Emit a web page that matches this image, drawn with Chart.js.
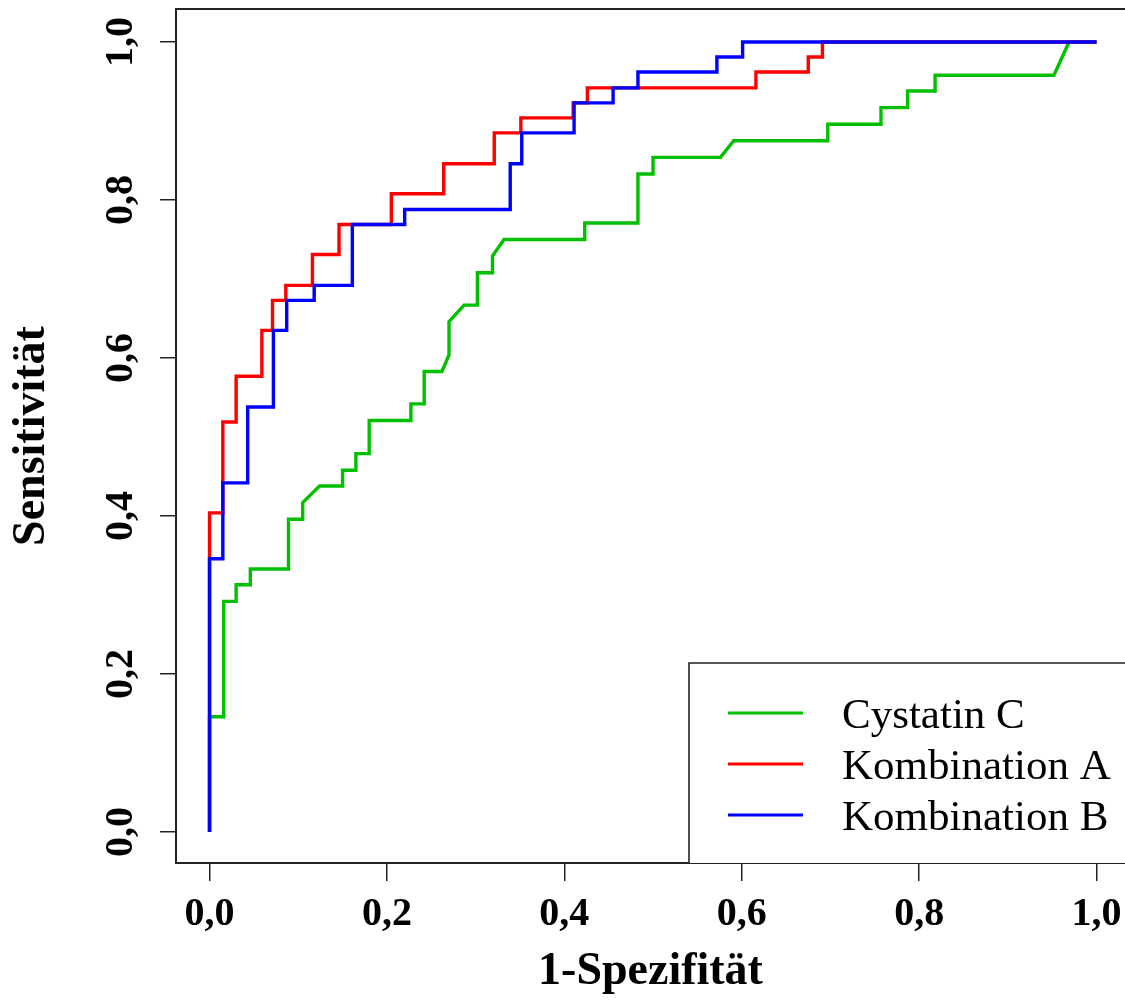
<!DOCTYPE html>
<html><head><meta charset="utf-8">
<script src="https://cdn.jsdelivr.net/npm/chart.js@4.4.1/dist/chart.umd.min.js"></script>
<style>html,body{margin:0;padding:0;background:#fff;overflow:hidden}canvas{display:block}</style>
</head><body>
<canvas id="c" width="1125" height="1000"></canvas>
<script>
// ---- data ----
const seriesNames = ['Cystatin C', 'Kombination A', 'Kombination B'];
const seriesColors = ['#00c000', '#ff0000', '#0000ff'];

const cystatinFpr = [0, 0, 0.016, 0.016, 0.030, 0.030, 0.046, 0.046, 0.089, 0.089, 0.105, 0.105, 0.124, 0.150, 0.150, 0.165, 0.165, 0.180, 0.180, 0.227, 0.227, 0.242, 0.242, 0.262, 0.270, 0.270, 0.287, 0.302, 0.302, 0.319, 0.319, 0.332, 0.423, 0.423, 0.483, 0.483, 0.500, 0.500, 0.576, 0.591, 0.697, 0.697, 0.757, 0.757, 0.787, 0.787, 0.818, 0.818, 0.952, 0.969, 1];
const cystatinTpr = [0, 0.146, 0.146, 0.292, 0.292, 0.313, 0.313, 0.333, 0.333, 0.396, 0.396, 0.417, 0.438, 0.438, 0.458, 0.458, 0.479, 0.479, 0.521, 0.521, 0.542, 0.542, 0.583, 0.583, 0.604, 0.646, 0.667, 0.667, 0.708, 0.708, 0.729, 0.750, 0.750, 0.771, 0.771, 0.833, 0.833, 0.854, 0.854, 0.875, 0.875, 0.896, 0.896, 0.917, 0.917, 0.938, 0.938, 0.958, 0.958, 1, 1];

const kombAFpr = [0, 0, 0.015, 0.015, 0.030, 0.030, 0.059, 0.059, 0.071, 0.071, 0.086, 0.086, 0.116, 0.116, 0.146, 0.146, 0.205, 0.205, 0.264, 0.264, 0.321, 0.321, 0.351, 0.351, 0.410, 0.410, 0.426, 0.426, 0.616, 0.616, 0.675, 0.675, 0.691, 0.691, 1];
const kombATpr = [0, 0.404, 0.404, 0.519, 0.519, 0.577, 0.577, 0.635, 0.635, 0.673, 0.673, 0.692, 0.692, 0.731, 0.731, 0.769, 0.769, 0.808, 0.808, 0.846, 0.846, 0.885, 0.885, 0.904, 0.904, 0.923, 0.923, 0.942, 0.942, 0.962, 0.962, 0.981, 0.981, 1, 1];

const kombBFpr = [0, 0, 0.015, 0.015, 0.043, 0.043, 0.072, 0.072, 0.087, 0.087, 0.118, 0.118, 0.161, 0.161, 0.220, 0.220, 0.339, 0.339, 0.352, 0.352, 0.411, 0.411, 0.455, 0.455, 0.483, 0.483, 0.572, 0.572, 0.601, 0.601, 1];
const kombBTpr = [0, 0.346, 0.346, 0.442, 0.442, 0.538, 0.538, 0.635, 0.635, 0.673, 0.673, 0.692, 0.692, 0.769, 0.769, 0.788, 0.788, 0.846, 0.846, 0.885, 0.885, 0.923, 0.923, 0.942, 0.942, 0.962, 0.962, 0.981, 0.981, 1, 1];

const tickValues = [0, 0.2, 0.4, 0.6, 0.8, 1.0];
const tickLabels = ['0,0', '0,2', '0,4', '0,6', '0,8', '1,0'];
const xTitle = '1-Spezifität';
const yTitle = 'Sensitivität';

// ---- build chart ----
const toPts = (xs, ys) => xs.map((x, i) => ({x: x, y: ys[i]}));
const allFpr = [cystatinFpr, kombAFpr, kombBFpr];
const allTpr = [cystatinTpr, kombATpr, kombBTpr];
const drawOrder = [3, 2, 1];

const datasets = seriesNames.map((name, i) => ({
  label: name,
  data: toPts(allFpr[i], allTpr[i]),
  borderColor: seriesColors[i],
  backgroundColor: seriesColors[i],
  borderWidth: 3.4,
  pointRadius: 0,
  tension: 0,
  fill: false,
  order: drawOrder[i],
  borderJoinStyle: 'miter',
  borderCapStyle: 'butt'
}));

const SERIF = '"Liberation Serif", "Times New Roman", serif';
const AXIS_COLOR = '#222';

const noPad = s => { s.paddingTop = 0; s.paddingBottom = 0; s.paddingLeft = 0; s.paddingRight = 0; };

const boxAndLegend = {
  id: 'boxAndLegend',
  afterDatasetsDraw(chart) {
    const {ctx, chartArea: a} = chart;
    ctx.save();
    // top border of plot box
    ctx.strokeStyle = AXIS_COLOR;
    ctx.lineWidth = 2;
    ctx.beginPath();
    ctx.moveTo(a.left - 1, a.top);
    ctx.lineTo(a.right + 2, a.top);
    ctx.stroke();
    // legend box
    const lx = 689, ly = 663;
    ctx.fillStyle = '#fff';
    ctx.fillRect(lx, ly, a.right + 10 - lx, a.bottom - ly);
    ctx.lineWidth = 1.6;
    ctx.beginPath();
    ctx.moveTo(lx, a.bottom);
    ctx.lineTo(lx, ly);
    ctx.lineTo(a.right + 10, ly);
    ctx.stroke();
    const rows = [713, 764, 815];
    chart.data.datasets.forEach((ds, i) => {
      ctx.strokeStyle = ds.borderColor;
      ctx.lineWidth = 3;
      ctx.beginPath();
      ctx.moveTo(728, rows[i]);
      ctx.lineTo(803, rows[i]);
      ctx.stroke();
      ctx.fillStyle = '#000';
      ctx.font = '43px ' + SERIF;
      ctx.textBaseline = 'alphabetic';
      ctx.textAlign = 'left';
      ctx.fillText(ds.label, 842, rows[i] + 15);
    });
    ctx.restore();
  }
};

new Chart(document.getElementById('c'), {
  type: 'line',
  data: {datasets: datasets},
  plugins: [boxAndLegend],
  options: {
    responsive: false,
    animation: false,
    devicePixelRatio: 1,
    layout: {padding: {top: 9, right: 0, left: 0, bottom: 0}},
    plugins: {legend: {display: false}, tooltip: {enabled: false}},
    scales: {
      x: {
        type: 'linear',
        min: -0.0378,
        max: 1.0321,
        afterBuildTicks: s => { s.ticks = tickValues.map(v => ({value: v})); },
        afterFit: s => { s.height = 137; noPad(s); },
        grid: {display: true, drawOnChartArea: false, drawTicks: true, tickLength: 18, color: AXIS_COLOR, lineWidth: 1.5},
        border: {display: true, color: AXIS_COLOR, width: 2},
        ticks: {
          color: '#000', padding: 10, maxRotation: 0, autoSkip: false,
          font: {family: SERIF, size: 40, weight: 'bold', lineHeight: 1.2},
          callback: (v, i) => tickLabels[i]
        },
        title: {display: true, text: xTitle, color: '#000', padding: {top: 0, bottom: 0},
          font: {family: SERIF, size: 46, weight: 'bold', lineHeight: 1.2}}
      },
      y: {
        type: 'linear',
        min: -0.0392,
        max: 1.0418,
        afterBuildTicks: s => { s.ticks = tickValues.map(v => ({value: v})); },
        afterFit: s => { s.width = 176; noPad(s); },
        grid: {display: true, drawOnChartArea: false, drawTicks: true, tickLength: 16, color: AXIS_COLOR, lineWidth: 1.5},
        border: {display: true, color: AXIS_COLOR, width: 2},
        ticks: {
          color: '#000', padding: 13, minRotation: 90, maxRotation: 90, autoSkip: false,
          crossAlign: 'center',
          font: {family: SERIF, size: 40, weight: 'bold', lineHeight: 1.2},
          callback: (v, i) => tickLabels[i]
        },
        title: {display: true, text: yTitle, color: '#000', padding: {top: 5, bottom: 0},
          font: {family: SERIF, size: 46, weight: 'bold', lineHeight: 1.2}}
      }
    }
  }
});
</script>
</body></html>
